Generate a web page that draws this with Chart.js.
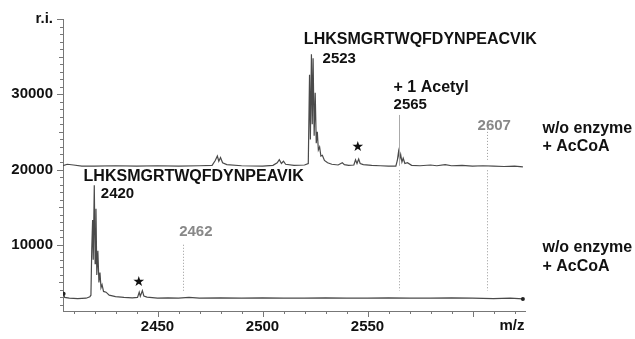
<!DOCTYPE html>
<html lang="en">
<head>
<meta charset="UTF-8" />
<title>MALDI spectra - acetylation</title>
<script src="https://cdn.jsdelivr.net/npm/chart.js"></script>
<style>
  html, body { margin: 0; background: #fff; }
  #wrap { width: 635px; height: 339px; }
</style>
</head>
<body>
<div id="wrap"><canvas id="spec" width="635" height="339"></canvas></div>
<script>
// upper trace (offset spectrum), m/z and intensity
const topMz = [2405, 2407, 2410, 2414, 2420, 2430, 2440, 2450, 2460, 2470, 2476, 2477.5, 2478.5, 2479.2, 2480, 2481, 2483,
  2490, 2500, 2505, 2507, 2508, 2509, 2510, 2511, 2515, 2520, 2521.8, 2522.4, 2522.8, 2523.3, 2523.7, 2524.1, 2524.6,
  2525.1, 2525.6, 2526.1, 2526.6, 2527.2, 2527.8, 2528.5, 2529.5, 2531, 2533, 2536, 2538, 2539, 2541, 2543.5, 2544.3,
  2545, 2545.8, 2546.5, 2548, 2552, 2556, 2560, 2563.5, 2564.2, 2564.8, 2565.3, 2565.8, 2566.4, 2567, 2567.8, 2569,
  2571, 2575, 2580, 2583, 2587, 2590, 2595, 2600, 2605, 2610, 2615, 2620, 2624];
const topInt = [20500, 20700, 20600, 20450, 20450, 20500, 20450, 20500, 20450, 20500, 20550, 21200, 21800, 21100, 21600, 20900, 20650,
  20500, 20450, 20550, 20900, 21300, 20800, 21100, 20700, 20550, 20600, 20800, 32600, 24000, 35300, 26000, 34800, 24500,
  30200, 23500, 25000, 22600, 23000, 21800, 21900, 21200, 20900, 20700, 20600, 20900, 20650, 20550, 20600, 21300,
  20800, 21400, 20800, 20650, 20550, 20500, 20450, 20450, 21200, 22400, 21300, 22000, 21000, 21500, 20800, 20900,
  20550, 20500, 20600, 20500, 20650, 20500, 20550, 20450, 20500, 20450, 20400, 20450, 20350];

// lower trace
const botMz = [2405.3, 2405.8, 2408, 2412, 2416, 2417.8, 2418.3, 2418.7, 2419.1, 2419.4, 2419.9, 2420.3, 2420.7, 2421.1,
  2421.6, 2422.1, 2422.6, 2423.1, 2423.6, 2424.3, 2425.5, 2427, 2430, 2434, 2438, 2440.5, 2441.3, 2441.8, 2442.8, 2443.5,
  2445, 2450, 2455, 2460, 2465, 2470, 2480, 2490, 2500, 2510, 2520, 2530, 2540, 2550, 2560, 2570, 2580, 2590, 2600,
  2610, 2618, 2624];
const botInt = [3500, 3000, 2900, 2850, 2900, 3100, 3300, 9500, 13300, 8000, 17900, 7500, 14800, 6000,
  9200, 5000, 6300, 4300, 4700, 3800, 3700, 3300, 3100, 3000, 2950, 3000, 3700, 3150, 3900, 3200,
  3050, 2900, 2950, 2900, 3000, 2900, 2950, 2900, 2950, 2900, 2900, 2950, 2900, 2900, 2950, 2900, 2900, 2950, 2900,
  2850, 2900, 2800];

const yLabels = [10000, 20000, 30000];
const xLabels = [2450, 2500, 2550];

// text notes in data units: [text, m/z, intensity, colour, px size]
const notes = [
  ['LHKSMGRTWQFDYNPEACVIK', 2519.7, 37250, '#111', 16],
  ['2523', 2528.6, 34700, '#111', 15],
  ['+ 1 Acetyl', 2562.4, 30900, '#111', 16],
  ['2565', 2562.4, 28600, '#111', 15],
  ['2607', 2602.4, 25800, '#888', 15],
  ['w/o enzyme', 2633.3, 25500, '#111', 16],
  ['+ AcCoA', 2633.3, 23000, '#111', 16],
  ['LHKSMGRTWQFDYNPEAVIK', 2414.8, 19000, '#111', 16],
  ['2420', 2423.0, 16760, '#111', 15],
  ['2462', 2460.3, 11740, '#888', 15],
  ['w/o enzyme', 2633.3, 9600, '#111', 16],
  ['+ AcCoA', 2633.3, 7100, '#111', 16]
];
const stars = [[2545.4, 22880], [2441.1, 5030]];
// marker lines: [m/z, from, to, dashed]
const markers = [
  [2565, 27250, 20500, false],
  [2565, 19900, 3900, true],
  [2607, 25400, 21300, true],
  [2607, 19900, 3900, true],
  [2462, 10000, 3900, true]
];

const FONT = '"Liberation Sans", Arial, sans-serif';

const decor = {
  id: 'decor',
  afterDatasetsDraw(chart) {
    const { ctx, scales: { x, y } } = chart;
    ctx.save();
    // tick marks
    ctx.strokeStyle = '#777';
    ctx.lineWidth = 1;
    ctx.beginPath();
    for (let v = 2410; v <= 2620; v += 10) {
      const px = Math.round(x.getPixelForValue(v)) + 0.5;
      ctx.moveTo(px, y.bottom);
      ctx.lineTo(px, y.bottom + (v % 50 === 0 ? 6 : 3));
    }
    for (let v = 2000; v <= 40000; v += 1000) {
      const py = Math.round(y.getPixelForValue(v)) + 0.5;
      ctx.moveTo(x.left, py);
      ctx.lineTo(x.left - (v % 10000 === 0 ? 6 : v % 5000 === 0 ? 4 : 3), py);
    }
    ctx.stroke();

    // marker lines
    markers.forEach(([m, a, b, dashed]) => {
      const px = Math.round(x.getPixelForValue(m)) + 0.5;
      ctx.strokeStyle = dashed ? '#999' : '#aaa';
      ctx.setLineDash(dashed ? [1, 2] : []);
      ctx.beginPath();
      ctx.moveTo(px, y.getPixelForValue(a));
      ctx.lineTo(px, y.getPixelForValue(b));
      ctx.stroke();
    });
    ctx.setLineDash([]);

    // labels
    ctx.textBaseline = 'middle';
    ctx.textAlign = 'left';
    notes.forEach(([t, m, v, c, sz]) => {
      ctx.font = 'bold ' + sz + 'px ' + FONT;
      ctx.fillStyle = c;
      ctx.fillText(t, x.getPixelForValue(m), y.getPixelForValue(v));
    });
    ctx.fillStyle = '#111';
    ctx.font = '14px "DejaVu Sans", sans-serif';
    ctx.textAlign = 'center';
    stars.forEach(([m, v]) => ctx.fillText('\u2605', x.getPixelForValue(m), y.getPixelForValue(v)));

    ctx.font = 'bold 15px ' + FONT;
    ctx.fillText('m/z', x.right - 13, x.top + 15);
    ctx.restore();
  }
};

const pts = (mz, it) => mz.map((m, i) => ({ x: m, y: it[i] }));

new Chart(document.getElementById('spec'), {
  type: 'line',
  data: {
    datasets: [
      {
        data: pts(topMz, topInt),
        borderColor: '#4a4a4a',
        borderWidth: 1.2,
        pointRadius: 0,
        tension: 0
      },
      {
        data: pts(botMz, botInt),
        borderColor: '#4a4a4a',
        borderWidth: 1.2,
        backgroundColor: '#222',
        pointBorderWidth: 0,
        pointRadius: ctx => (ctx.dataIndex === 0 || ctx.dataIndex === botMz.length - 1) ? 2 : 0,
        tension: 0
      }
    ]
  },
  options: {
    responsive: false,
    animation: false,
    devicePixelRatio: 1,
    layout: { padding: { top: 15, right: 110, left: 0, bottom: 0 } },
    plugins: { legend: { display: false }, tooltip: { enabled: false } },
    scales: {
      x: {
        type: 'linear',
        min: 2405,
        max: 2625,
        grid: { display: false, drawTicks: false },
        border: { color: '#777', width: 1 },
        afterBuildTicks: s => { s.ticks = xLabels.map(v => ({ value: v })); },
        ticks: {
          autoSkip: false,
          maxRotation: 0,
          padding: 7,
          color: '#111',
          font: { family: FONT, size: 15, weight: 'bold' },
          callback: v => String(v)
        },
        afterFit: s => { s.height = 28; }
      },
      y: {
        min: 1200,
        max: 40000,
        grid: { display: false, drawTicks: false },
        border: { color: '#777', width: 1 },
        afterBuildTicks: s => { s.ticks = yLabels.concat([40000]).map(v => ({ value: v })); },
        ticks: {
          autoSkip: false,
          padding: 10,
          color: '#111',
          font: { family: FONT, size: 15, weight: 'bold' },
          callback: v => v === 40000 ? 'r.i.' : String(v)
        },
        afterFit: s => { s.width = 63; }
      }
    }
  },
  plugins: [decor]
});
</script>
</body>
</html>
